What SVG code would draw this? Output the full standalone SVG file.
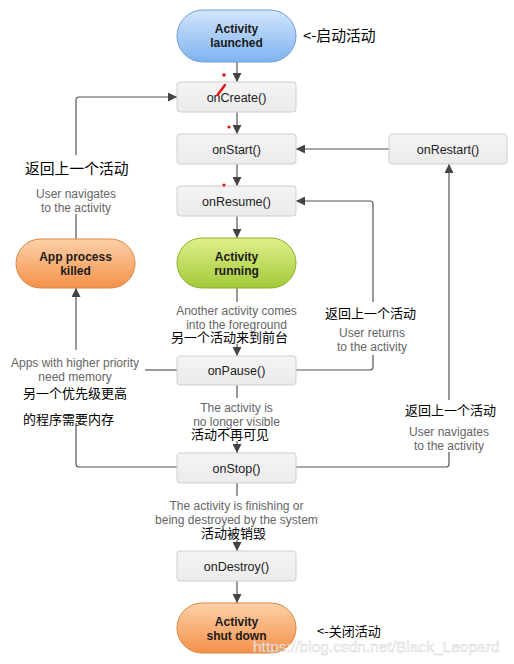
<svg xmlns="http://www.w3.org/2000/svg" width="514" height="664" viewBox="0 0 514 664">
<defs>
<linearGradient id="gBlue" x1="0" y1="0" x2="0" y2="1"><stop offset="0" stop-color="#d3e6fb"/><stop offset="1" stop-color="#7eb3f0"/></linearGradient>
<linearGradient id="gGreen" x1="0" y1="0" x2="0" y2="1"><stop offset="0" stop-color="#dff08a"/><stop offset="1" stop-color="#a3c93a"/></linearGradient>
<linearGradient id="gOrange" x1="0" y1="0" x2="0" y2="1"><stop offset="0" stop-color="#fdd0a8"/><stop offset="1" stop-color="#f5914a"/></linearGradient>
<linearGradient id="gBox" x1="0" y1="0" x2="0" y2="1"><stop offset="0" stop-color="#f4f4f4"/><stop offset="1" stop-color="#ebebeb"/></linearGradient>
<marker id="ah" viewBox="0 0 10 10" refX="10" refY="5" markerWidth="9" markerHeight="9" markerUnits="userSpaceOnUse" orient="auto"><path d="M0,0 L10,5 L0,10 z" fill="#444"/></marker>
</defs>
<style>
.box{fill:url(#gBox);stroke:#cfcfcf;stroke-width:1}
.lbl{font-family:"Liberation Sans",Arial,sans-serif;font-size:12.5px;fill:#222;text-anchor:middle}
.pl{font-family:"Liberation Sans",Arial,sans-serif;font-size:12px;font-weight:bold;fill:#1a1a1a;text-anchor:middle}
.gr{font-family:"Liberation Sans",Arial,sans-serif;font-size:12px;fill:#666;text-anchor:middle}
.cn{font-family:"Noto Sans CJK SC",sans-serif;font-size:13px;fill:#000}
.cb{font-family:"Noto Sans CJK SC",sans-serif;font-size:14.8px;fill:#000}
.ln{fill:none;stroke:#555;stroke-width:1.2}
</style>
<rect width="514" height="664" fill="#fff"/>

<g id="connectors">
<path class="ln" d="M237,62 V82" marker-end="url(#ah)"/>
<path class="ln" d="M237,112 V134" marker-end="url(#ah)"/>
<path class="ln" d="M237,164 V186" marker-end="url(#ah)"/>
<path class="ln" d="M237,216 V238" marker-end="url(#ah)"/>
<path class="ln" d="M237,288 V302"/>
<path class="ln" d="M237,344 V356" marker-end="url(#ah)"/>
<path class="ln" d="M237,385 V398"/>
<path class="ln" d="M237,441 V453" marker-end="url(#ah)"/>
<path class="ln" d="M237,483 V496"/>
<path class="ln" d="M237,540 V551" marker-end="url(#ah)"/>
<path class="ln" d="M237,581 V603" marker-end="url(#ah)"/>
<path class="ln" d="M389,149 H296" marker-end="url(#ah)"/>
<path class="ln" d="M76,155 V100 Q76,97 79,97 H177" marker-end="url(#ah)"/>
<path class="ln" d="M76,214 V239"/>
<path class="ln" d="M76,350 V288" marker-end="url(#ah)"/>
<path class="ln" d="M145,370 H177"/>
<path class="ln" d="M76,423 V464 Q76,467 79,467 H177"/>
<path class="ln" d="M296,370 H370 Q373,370 373,367 V355"/>
<path class="ln" d="M373,302 V204 Q373,201 370,201 H296" marker-end="url(#ah)"/>
<path class="ln" d="M296,467 H446 Q449,467 449,464 V452"/>
<path class="ln" d="M449,400 V164" marker-end="url(#ah)"/>
</g>

<g id="launched"><rect x="177" y="10" width="119" height="52" rx="26" fill="url(#gBlue)" stroke="#6f9fd9"/><text class="pl" x="236.5" y="33">Activity</text><text class="pl" x="236.5" y="47">launched</text></g>
<g id="onCreate"><rect class="box" x="177" y="82" width="119" height="30" rx="3"/><text class="lbl" x="236.5" y="101.5">onCreate()</text></g>
<g id="onStart"><rect class="box" x="177" y="134" width="119" height="30" rx="3"/><text class="lbl" x="236.5" y="153.5">onStart()</text></g>
<g id="onRestart"><rect class="box" x="389" y="134" width="118" height="30" rx="3"/><text class="lbl" x="448" y="153.5">onRestart()</text></g>
<g id="onResume"><rect class="box" x="177" y="186" width="119" height="30" rx="3"/><text class="lbl" x="236.5" y="205.5">onResume()</text></g>
<g id="running"><rect x="177" y="238" width="119" height="50" rx="25" fill="url(#gGreen)" stroke="#8fb02c"/><text class="pl" x="236.5" y="261">Activity</text><text class="pl" x="236.5" y="275">running</text></g>
<g id="killed"><rect x="16" y="239" width="119" height="49" rx="24.5" fill="url(#gOrange)" stroke="#d98640"/><text class="pl" x="75.5" y="261">App process</text><text class="pl" x="75.5" y="275">killed</text></g>
<g id="onPause"><rect class="box" x="177" y="356" width="119" height="29" rx="3"/><text class="lbl" x="236.5" y="375">onPause()</text></g>
<g id="onStop"><rect class="box" x="177" y="453" width="119" height="30" rx="3"/><text class="lbl" x="236.5" y="472.5">onStop()</text></g>
<g id="onDestroy"><rect class="box" x="177" y="551" width="119" height="30" rx="3"/><text class="lbl" x="236.5" y="570.5">onDestroy()</text></g>
<g id="shutdown"><rect x="177" y="603" width="119" height="50" rx="25" fill="url(#gOrange)" stroke="#d98640"/><text class="pl" x="236.5" y="626">Activity</text><text class="pl" x="236.5" y="640">shut down</text></g>

<g id="labels">
<text class="cb" x="303" y="41">&lt;-启动活动</text>
<text class="cb" x="25" y="174">返回上一个活动</text>
<text class="gr" x="76" y="198">User navigates</text>
<text class="gr" x="76" y="212">to the activity</text>
<text class="gr" x="236.5" y="315">Another activity comes</text>
<text class="gr" x="236.5" y="328.5">into the foreground</text>
<text class="cn" x="171" y="342">另一个活动来到前台</text>
<text class="cn" x="325" y="318">返回上一个活动</text>
<text class="gr" x="372" y="337">User returns</text>
<text class="gr" x="372" y="351">to the activity</text>
<text class="gr" x="75" y="367">Apps with higher priority</text>
<text class="gr" x="75" y="380.5">need memory</text>
<text class="cn" x="23" y="398">另一个优先级更高</text>
<text class="cn" x="23" y="424">的程序需要内存</text>
<text class="gr" x="236.5" y="412">The activity is</text>
<text class="gr" x="236.5" y="426">no longer visible</text>
<text class="cn" x="191" y="439">活动不再可见</text>
<text class="cn" x="405" y="415">返回上一个活动</text>
<text class="gr" x="449" y="436">User navigates</text>
<text class="gr" x="449" y="450">to the activity</text>
<text class="gr" x="236.5" y="510">The activity is finishing or</text>
<text class="gr" x="236.5" y="524">being destroyed by the system</text>
<text class="cn" x="201" y="538">活动被销毁</text>
<text class="cn" x="317" y="636" font-size="13.5px">&lt;-关闭活动</text>
<text x="253" y="652" font-family="Liberation Sans,Arial,sans-serif" font-size="15.5px" fill="#ffffff" fill-opacity="0.75" stroke="#c8c8c8" stroke-width="0.5" stroke-opacity="0.8">https://blog.csdn.net/Black_Leopard</text>
</g>

<g id="marks" fill="#e81010">
<circle cx="224" cy="75" r="1.8"/>
<path d="M217.5,95 L225,85" stroke="#e81010" stroke-width="2.4" stroke-linecap="round"/>
<circle cx="229" cy="127" r="1.6"/>
<circle cx="224" cy="185" r="1.6"/>
</g>
</svg>
